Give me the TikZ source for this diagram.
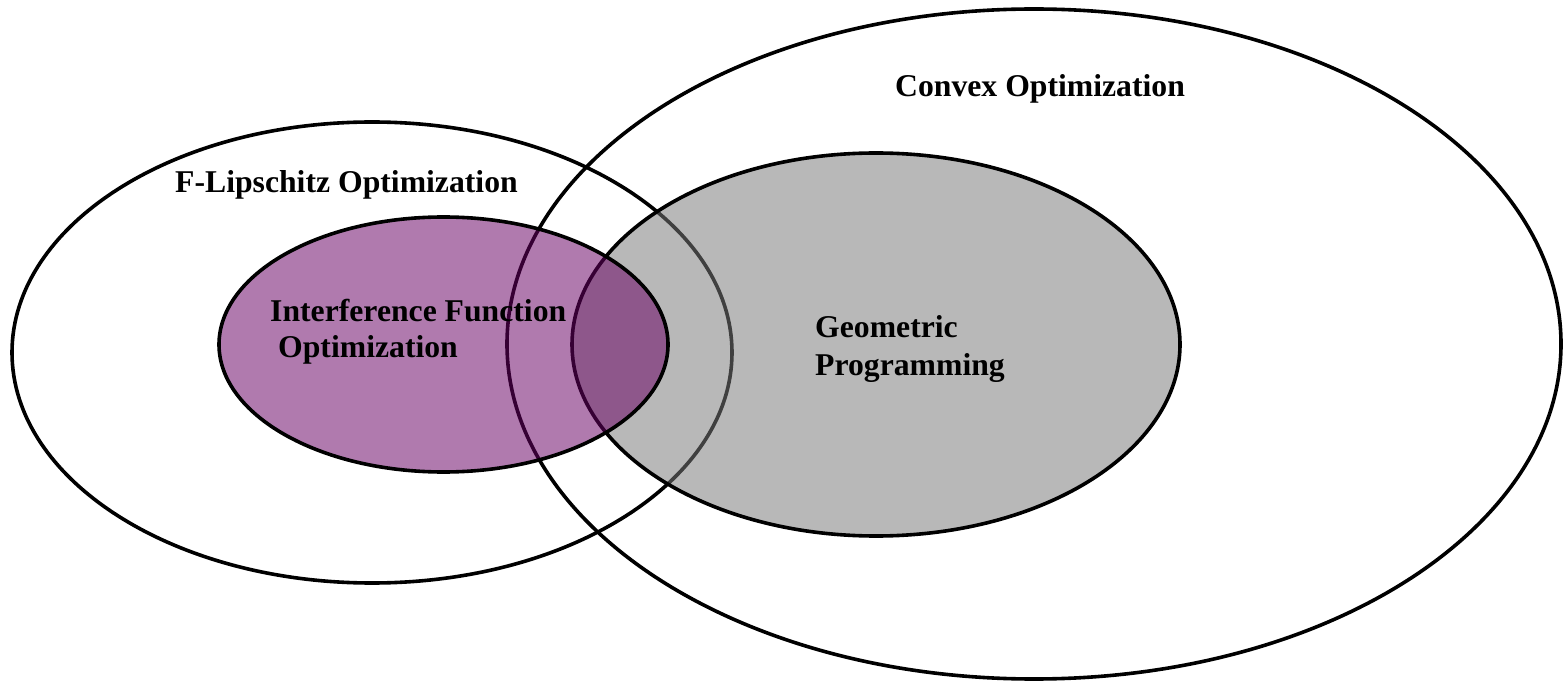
\documentclass[tikz,border=0pt]{standalone}
\usepackage{fontspec}
\setmainfont{Liberation Serif}
\begin{document}
\definecolor{setgray}{RGB}{121,121,121}
\definecolor{setpurple}{RGB}{104,0,100}
\begin{tikzpicture}[x=1pt,y=-1pt,
  outline/.style={draw=black,line width=3.6pt},
  grayset/.style={outline,fill=setgray,fill opacity=0.53},
  purpleset/.style={outline,fill=setpurple,fill opacity=0.52},
  setlabel/.style={anchor=base west,inner sep=0pt,align=left,
    font=\fontsize{31.7}{36.5}\selectfont\bfseries}]
  \useasboundingbox (0,0) rectangle (1563,684);
  % outer sets
  \draw[outline] (372,352.5) ellipse [x radius=360,y radius=230.5];
  \draw[outline] (1034,344) ellipse [x radius=527,y radius=335];
  % inner sets, translucent
  \draw[grayset] (876,344.5) ellipse [x radius=304,y radius=191.5];
  \draw[purpleset] (443.5,344.5) ellipse [x radius=224.5,y radius=127.5];
  % labels
  \node[setlabel] (convex) at (895,97) {Convex Optimization};
  \node[setlabel] (flip) at (175,193) {F-Lipschitz Optimization};
  \node[setlabel] (intf1) at (270,322) {Interference Function};
  \node[setlabel] (intf2) at (278,358) {Optimization};
  \node[setlabel] (geo1) at (815,338) {Geometric};
  \node[setlabel] (geo2) at (815,375) {Programming};
\end{tikzpicture}
\end{document}
